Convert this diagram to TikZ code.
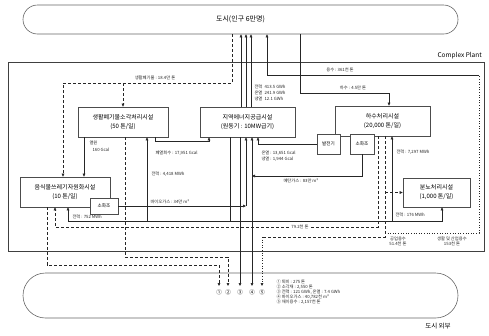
\documentclass[tikz,border=0pt]{standalone}
\usepackage{fontspec}
\setmainfont{Noto Sans CJK KR}
\usetikzlibrary{arrows.meta,calc}
\tikzset{
 box/.style={draw=black!70, line width=0.6pt, fill=white, align=center, font=\fontsize{6}{9}\selectfont, inner sep=0pt},
 sbox/.style={draw=black!70, line width=0.6pt, fill=white, font=\fontsize{4.6}{5}\selectfont, inner sep=0pt},
 flow/.style={draw=black!85, line width=0.55pt},
 dflow/.style={flow, dash pattern=on 3pt off 2pt},
 dotflow/.style={flow, dash pattern=on 1pt off 1.6pt},
 tip/.style={-{Triangle[length=3pt,width=2.6pt]}},
 lbl/.style={font=\fontsize{4.3}{5.2}\selectfont, inner sep=0.3pt, text=black!85},
 stadium/.style={draw=black!60, line width=0.6pt},
}
\begin{document}
\begin{tikzpicture}[x=1pt,y=-1pt]
\useasboundingbox (0,0) rectangle (489,335);
% frames
\node[stadium, rounded corners=14.5pt, minimum width=435pt, minimum height=29pt, font=\fontsize{7}{8}\selectfont] (city) at (240.5,19.5) {도시(인구 6만명)};
\node[draw=black!75, line width=0.6pt, minimum width=476pt, minimum height=189pt] (plant) at (246,156.5) {};
\node[anchor=south east, inner sep=0pt, font=\fontsize{6.5}{7}\selectfont] (cpl) at (482,59) {Complex Plant};
\node[stadium, rounded corners=22.5pt, minimum width=435pt, minimum height=45pt] (outside) at (240.5,295.5) {};
\node[font=\fontsize{6.5}{7}\selectfont, inner sep=0pt] (outl) at (438,326) {도시 외부};
% facilities
\node[box, minimum width=90pt, minimum height=30pt] (inc) at (123,122) {생활폐기물소각처리시설\\(50 톤/일)};
\node[box, minimum width=95pt, minimum height=30pt] (en) at (247.5,122) {지역에너지공급시설\\(원동기 : 10MW급기)};
\node[box, minimum width=95pt, minimum height=30pt] (ww) at (382.5,121) {하수처리시설\\(20,000 톤/일)};
\node[sbox, minimum width=23pt, minimum height=20pt] (gen) at (328.5,144) {발전기};
\node[sbox, minimum width=24pt, minimum height=20pt] (dig) at (362,144) {소화조};
\node[box, minimum width=90pt, minimum height=30pt] (food) at (65,192) {음식물쓰레기자원화시설\\(10 톤/일)};
\node[sbox, minimum width=28pt, minimum height=16pt] (fdig) at (104,206) {소화조};
\node[box, minimum width=67pt, minimum height=29pt] (ns) at (436.5,192.5) {분뇨처리시설\\(1,000 톤/일)};
% waste from city
\coordinate (w1) at (232,83);
\coordinate (w2) at (123,83);
\draw[dflow,tip] (232,0 |- city.south) -- (w1) -- (63,83) -- (63,0 |- food.north);
\draw[dflow,tip] (w2) -- (123,0 |- inc.north);
\node[lbl] (lw) at (155,78) {생활폐기물 : 18.4만 톤};
% energy to city
\foreach \xx in {241,246,251} \draw[flow,tip] (\xx,0 |- en.north) -- (\xx,0 |- city.south);
\node[lbl, anchor=west] (le1) at (254,87) {전력\enspace 413.5 GWh};
\node[lbl, anchor=west] (le2) at (254,93) {온열\enspace 241.9 GWh};
\node[lbl, anchor=west] (le3) at (254,99) {냉열\enspace 12.1 GWh};
% sewage in
\coordinate (s1) at (300,93);
\draw[flow,tip] (300,0 |- city.south) -- (s1) -- (389,93) -- (389,0 |- ww.north);
\node[lbl] (ls) at (353,88) {하수 : 4.5만 톤};
% reuse water loop
\coordinate (j5) at (385,233);
\draw[dotflow] (j5) -- (479,233) -- (479,75);
\draw[flow,tip] (479,75) -- (267,75) -- (267,0 |- city.south);
\node[lbl] (lr) at (340,70) {용수 : 361천 톤};
\node[lbl, align=center] (lr2) at (452,241) {생활 및 산업용수\\153천 톤};
% incinerator heat to food
\draw[flow,tip] (84,0 |- inc.south) -- (84,0 |- food.north);
\node[lbl, anchor=west] (lh1) at (89,143) {열원};
\node[lbl, anchor=west] (lh2) at (92,150) {160 Gcal};
% waste heat to energy
\draw[flow,tip] (155,0 |- inc.south) -- (155,141) -- (209,141) -- (209,0 |- en.south);
\node[lbl, anchor=west] (lwh) at (155,153) {폐열회수 : 17,951 Gcal};
% power bus
\coordinate (pb) at (230,221);
\draw[flow] (230,0 |- en.south) -- (pb);
\draw[flow,tip] (pb) -- (68,221) -- (68,0 |- food.south);
\draw[flow,tip] (pb) -- (442,221) -- (442,0 |- ns.south);
\draw[flow,tip] (147,221) -- (147,0 |- inc.south);
\draw[flow,tip] (392,221) -- (392,0 |- ww.south);
\node[lbl, anchor=west] (lp1) at (72,217) {전력 : 752 MWh};
\node[lbl, anchor=west] (lp2) at (151,174) {전력 : 4,418 MWh};
\node[lbl, anchor=west] (lp3) at (396,152) {전력 : 7,297 MWh};
\node[lbl, anchor=west] (lp4) at (395,215) {전력 : 176 MWh};
% generator heat
\draw[flow,tip] (gen.west) -- (258,0 |- gen.west) -- (258,0 |- en.south);
\node[lbl, anchor=west] (lg1) at (261,153) {온열 : 13,651 Gcal};
\node[lbl, anchor=west] (lg2) at (261,159) {냉열 : 1,944 Gcal};
% biogas from sewage digester
\coordinate (b2) at (252,176);
\draw[flow,tip] (dig.south) -- (362,176) -- (b2);
\draw[flow,tip] (b2) -- (252,0 |- en.south);
\draw[flow,tip] (b2) -- (252,286);
\node[lbl, anchor=west] (lb2) at (283,181) {메탄가스 : 83만 m³};
% biogas from food digester
\coordinate (b1) at (246,206);
\draw[flow,tip] (fdig.east) -- (b1);
\draw[flow,tip] (b1) -- (246,0 |- en.south);
\node[lbl, anchor=west] (lb1) at (150,202) {바이오가스 : 34만 m³};
% energy to outside
\draw[flow,tip] (240,0 |- en.south) -- (240,286);
% sludge to food
\draw[dflow,tip] (378,0 |- ww.south) -- (378,227) -- (55,227) -- (55,0 |- food.south);
\node[lbl, fill=white] (lsl) at (300,227) {79.2천 톤};
% treated water
\draw[dflow] (385,0 |- ww.south) -- (385,237) -- (262,237);
\draw[dotflow,tip] (262,237) -- (262,286);
\draw[dflow,tip] (385,0 |- ns.west) -- (ns.west);
\node[lbl, align=center] (lin) at (398,241) {공업용수\\51.4천 톤};
% to outside
\draw[dflow,tip] (47,0 |- food.south) -- (47,265) -- (219,265) -- (219,286);
\draw[dflow,tip] (125,0 |- inc.south) -- (125,257) -- (228,257) -- (228,286);
\foreach \xx/\nn/\tt in {219/n1/①,228/n2/②,240/n3/③,252/n4/④,262/n5/⑤}
  \node[font=\fontsize{5.5}{6}\selectfont, inner sep=0pt] (\nn) at (\xx,292) {\tt};
\node[lbl, anchor=north west, align=left] (list) at (276,279) {① 퇴비 : 275 톤\\② 소각재 : 2,550 톤\\③ 전력 : 121 GWh, 온열 : 7.4 GWh\\④ 바이오가스 : 40,782천 m³\\⑤ 재이용수 : 2,157천 톤};
\end{tikzpicture}
\end{document}
